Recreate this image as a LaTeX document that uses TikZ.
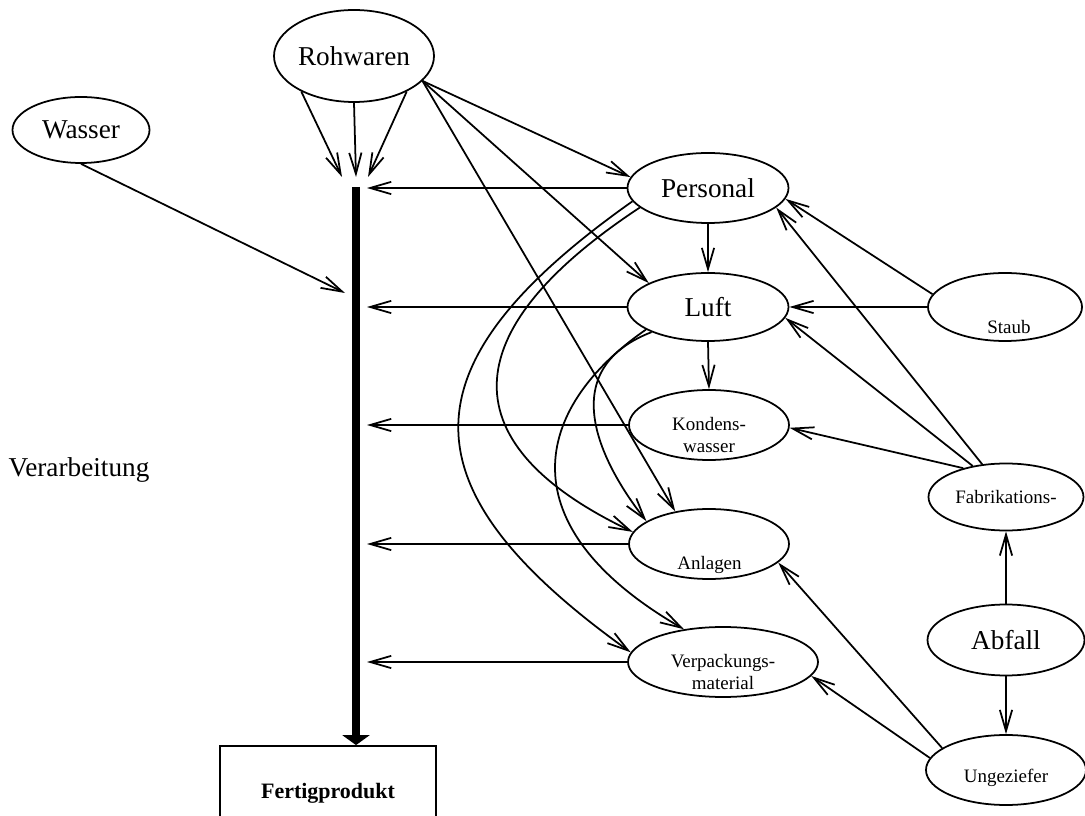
\documentclass[tikz,border=0pt]{standalone}
\usepackage{xcolor}
\usepackage{fontspec}
\setmainfont{Liberation Serif}
\usetikzlibrary{shapes.geometric,arrows.meta}

\begin{document}
\begin{tikzpicture}[line width=1pt,
  ell/.style={ellipse,draw,inner sep=0pt,minimum width=3.2cm,minimum height=1.4cm},
  big/.style={font=\fontsize{15.5}{18}\selectfont},
  small/.style={font=\fontsize{10.8}{12.8}\selectfont,align=center},
  arr/.style={-{Straight Barb[length=12pt,width=7pt]}}]
\clip (0,0) rectangle (21.7,-16.32);

\node[ell,big,minimum height=1.84cm] (roh) at (7.08,-1.12) {Rohwaren};
\node[ell,big,minimum width=2.74cm,minimum height=1.32cm] (was) at (1.62,-2.6) {Wasser};
\node[ell,big,minimum width=3.22cm] (per) at (14.16,-3.76) {Personal};
\node[ell,big,minimum width=3.22cm,minimum height=1.36cm] (luf) at (14.16,-6.14) {Luft};
\node[ell] (kon) at (14.18,-8.5) {};
\node[small] (kon-t) at (14.18,-8.7) {Kondens-\\wasser};
\node[ell] (anl) at (14.18,-10.88) {};
\node[small] (anl-t) at (14.19,-11.3) {Anlagen};
\node[ell,minimum width=3.8cm] (vpk) at (14.46,-13.24) {};
\node[small] (vpk-t) at (14.46,-13.44) {Verpackungs-\\material};
\node[ell,minimum width=3.08cm,minimum height=1.36cm] (sta) at (20.1,-6.14) {};
\node[small] (sta-t) at (20.18,-6.54) {Staub};
\node[ell,small,minimum width=3.1cm,minimum height=1.34cm] (fab) at (20.12,-9.94) {Fabrikations-};
\node[ell,big,minimum width=3.14cm,minimum height=1.42cm] (abf) at (20.12,-12.8) {Abfall};
\node[ell] (ung) at (20.12,-15.4) {};
\node[small] (ung-t) at (20.12,-15.56) {Ungeziefer};
\node[draw,font=\bfseries\fontsize{12.5}{15}\selectfont,minimum width=4.32cm,minimum height=1.88cm] (fert) at (6.56,-15.86) {Fertigprodukt};
\node[big] (verarb) at (1.58,-9.4) {Verarbeitung};

\coordinate (vtop) at (7.12,-3.74);
\coordinate (vb) at (7.34,-3.74);
\coordinate (rin) at (7.12,-3.54);
\coordinate (wend) at (6.9,-5.86);

\draw[line width=4.5pt,-{Triangle[length=0.2cm,width=0.54cm]}] (vtop) -- (vtop |- fert.north);

\draw[arr] (roh.214) -- ([xshift=-0.28cm]rin);
\draw[arr] (roh.south) -- (rin);
\draw[arr] (roh.326) -- ([xshift=0.24cm]rin);
\draw[arr] (was.south) -- (wend);
\draw[arr] (roh.340) -- (per.172);
\draw[arr] (roh.340) -- (luf.158);
\draw[arr] (roh.340) -- (anl.136);

\foreach \n in {per,luf,kon,anl,vpk}
  \draw[arr] (\n.west) -- (\n.west -| vb);

\draw[arr] (per.south) -- (luf.north);
\draw[arr] (luf.south) -- (kon.north);
\draw[arr] (sta.170) -- (per.352);
\draw[arr] (sta.west) -- (luf.east);
\draw[arr] (fab.126) -- (per.344);
\draw[arr] (fab.137) -- (luf.352);
\draw[arr] (fab.146) -- (kon.358);
\draw[arr] (abf.north) -- (fab.south);
\draw[arr] (abf.south) -- (ung.north);
\draw[arr] (ung.161) -- (anl.345);
\draw[arr] (ung.171) -- (vpk.351);

\draw[arr] (per.190) .. controls +(-4.64,-3.28) and +(-4.58,3.28) .. (vpk.174);
\draw[arr] (per.196) .. controls +(-3.82,-2.52) and +(-3.6,1.72) .. (anl.171);
\draw[arr] (luf.200) .. controls +(-2.28,-1.58) and +(-3.56,2.06) .. (vpk.140);
\draw[arr] (luf.204) .. controls +(-2.22,-0.86) and +(-0.55,0.7) .. (anl.160);
\end{tikzpicture}
\end{document}
